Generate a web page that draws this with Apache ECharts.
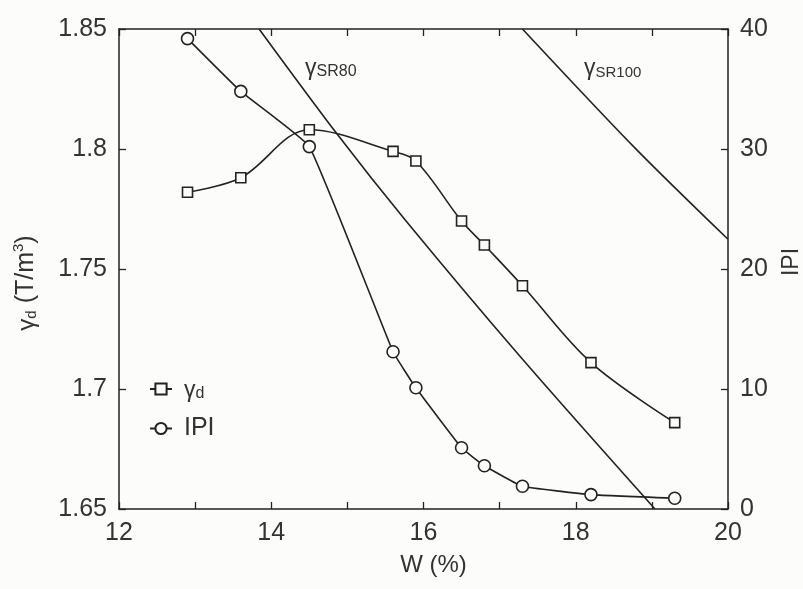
<!DOCTYPE html>
<html>
<head>
<meta charset="utf-8">
<script src="https://cdn.jsdelivr.net/npm/echarts@6/dist/echarts.min.js"></script>
<style>
html,body{margin:0;padding:0;background:#fcfcfa;}
#c{width:803px;height:589px;}
</style>
</head>
<body>
<div id="c"></div>
<script>
// Measured data
const waterContent = [12.9, 13.6, 14.5, 15.6, 15.9, 16.5, 16.8, 17.3, 18.2, 19.3];
const gammaD = [1.782, 1.788, 1.808, 1.799, 1.795, 1.770, 1.760, 1.743, 1.711, 1.686];
const ipi = [39.2, 34.8, 30.2, 13.1, 10.1, 5.1, 3.6, 1.9, 1.2, 0.9];
// Saturation lines
const sr80W = [13.84, 14.87, 15.76, 17.27, 19.04];
const sr80G = [1.85, 1.806, 1.7704, 1.7135, 1.65];
const sr100W = [17.30, 18.76, 20.0];
const sr100G = [1.85, 1.801, 1.7624];
// Axis ticks
const xTicks = [12, 14, 16, 18, 20];

const pair = (xs, ys) => xs.map((x, i) => [x, ys[i]]);
const ink = '#222';
const txt = '#333';
const bg = '#fcfcfa';
const font = 'Liberation Sans, Arial, sans-serif';

const chart = echarts.init(document.getElementById('c'), null, {renderer: 'canvas'});
const tickStyle = {inside: true, length: 7, lineStyle: {color: ink, width: 1.3}};
const lineStyleAx = {show: true, lineStyle: {color: ink, width: 1.5}};
const labStyle = {color: txt, fontSize: 25, fontFamily: font};

chart.setOption({
  backgroundColor: bg,
  animation: false,
  grid: {left: 119, right: 75, top: 29, bottom: 80, containLabel: false, outerBoundsMode: 'none'},
  legend: {
    orient: 'vertical', left: 144, top: 374, itemGap: 14, itemWidth: 22, itemHeight: 14,
    data: ['gd', 'IPI'],
    formatter: n => n === 'gd' ? '{g|γ}{s|d}' : '{n|IPI}',
    textStyle: {
      color: txt, fontFamily: font, padding: [0, 0, 0, 7],
      rich: {
        g: {fontSize: 23, color: txt, fontFamily: font, lineHeight: 26, verticalAlign: 'bottom'},
        s: {fontSize: 16, color: txt, fontFamily: font, lineHeight: 10, verticalAlign: 'bottom'},
        n: {fontSize: 25, color: txt, fontFamily: font, lineHeight: 26}
      }
    }
  },
  xAxis: [{
    type: 'value', min: 12, max: 20, interval: 1, position: 'bottom',
    name: 'W (%)', nameLocation: 'middle', nameGap: 44,
    nameTextStyle: {color: txt, fontSize: 24, fontFamily: font, padding: [0, 0, 0, 20]},
    axisLine: lineStyleAx, axisTick: tickStyle, splitLine: {show: false},
    axisLabel: Object.assign({margin: 12, formatter: v => xTicks.includes(v) ? String(v) : ''}, labStyle)
  }, {
    type: 'value', min: 12, max: 20, interval: 1, position: 'top',
    axisLine: lineStyleAx, axisTick: tickStyle, splitLine: {show: false},
    axisLabel: {show: false}
  }],
  yAxis: [{
    type: 'value', min: 1.65, max: 1.85, interval: 0.05, position: 'left',
    name: '{g|γ}{s|d}{n| (T/m}{p|3}{n|)}', nameLocation: 'middle', nameGap: 80,
    nameTextStyle: {
      color: txt, fontFamily: font, padding: [0, 0, 0, -28],
      rich: {
        g: {fontSize: 24, color: txt, fontFamily: font, lineHeight: 28, verticalAlign: 'bottom'},
        s: {fontSize: 15, color: txt, fontFamily: font, lineHeight: 10, verticalAlign: 'bottom'},
        n: {fontSize: 25, color: txt, fontFamily: font, lineHeight: 28, verticalAlign: 'bottom'},
        p: {fontSize: 15, color: txt, fontFamily: font, lineHeight: 14, verticalAlign: 'top'}
      }
    },
    axisLine: lineStyleAx, axisTick: tickStyle, splitLine: {show: false},
    axisLabel: Object.assign({margin: 12, formatter: v => String(+v.toFixed(2))}, labStyle)
  }, {
    type: 'value', min: 0, max: 40, interval: 10, position: 'right',
    name: 'IPI', nameLocation: 'middle', nameGap: 52, nameRotate: 90,
    nameTextStyle: {color: txt, fontSize: 23, fontFamily: font, padding: [0, 0, 0, 14]},
    axisLine: lineStyleAx, axisTick: tickStyle, splitLine: {show: false},
    axisLabel: Object.assign({margin: 12}, labStyle)
  }],
  series: [{
    name: 'gd', type: 'line', xAxisIndex: 0, yAxisIndex: 0,
    data: pair(waterContent, gammaD), smooth: 0.35,
    symbol: 'rect', symbolSize: 10, showAllSymbol: true,
    lineStyle: {color: ink, width: 1.6},
    itemStyle: {color: bg, borderColor: ink, borderWidth: 1.6},
    z: 5
  }, {
    name: 'IPI', type: 'line', xAxisIndex: 0, yAxisIndex: 1,
    data: pair(waterContent, ipi), smooth: 0.1,
    symbol: 'circle', symbolSize: 12, showAllSymbol: true,
    lineStyle: {color: ink, width: 1.6},
    itemStyle: {color: bg, borderColor: ink, borderWidth: 1.6},
    z: 5
  }, {
    name: 'SR80', type: 'line', xAxisIndex: 0, yAxisIndex: 0,
    data: pair(sr80W, sr80G), smooth: 0.3, symbol: 'none',
    lineStyle: {color: ink, width: 1.6}, z: 3
  }, {
    name: 'SR100', type: 'line', xAxisIndex: 0, yAxisIndex: 0,
    data: pair(sr100W, sr100G), smooth: 0.3, symbol: 'none',
    lineStyle: {color: ink, width: 1.6}, z: 3
  }],
  graphic: [{
    type: 'text', left: 305, top: 57,
    style: {
      text: '{g|γ}{s|SR80}',
      rich: {
        g: {fontSize: 23, fill: txt, fontFamily: font, lineHeight: 24, verticalAlign: 'bottom'},
        s: {fontSize: 16, fill: txt, fontFamily: font, lineHeight: 12, verticalAlign: 'bottom'}
      }
    }
  }, {
    type: 'text', left: 584, top: 57,
    style: {
      text: '{g|γ}{s|SR100}',
      rich: {
        g: {fontSize: 23, fill: txt, fontFamily: font, lineHeight: 24, verticalAlign: 'bottom'},
        s: {fontSize: 15, fill: txt, fontFamily: font, lineHeight: 12, verticalAlign: 'bottom'}
      }
    }
  }]
});
</script>
</body>
</html>
